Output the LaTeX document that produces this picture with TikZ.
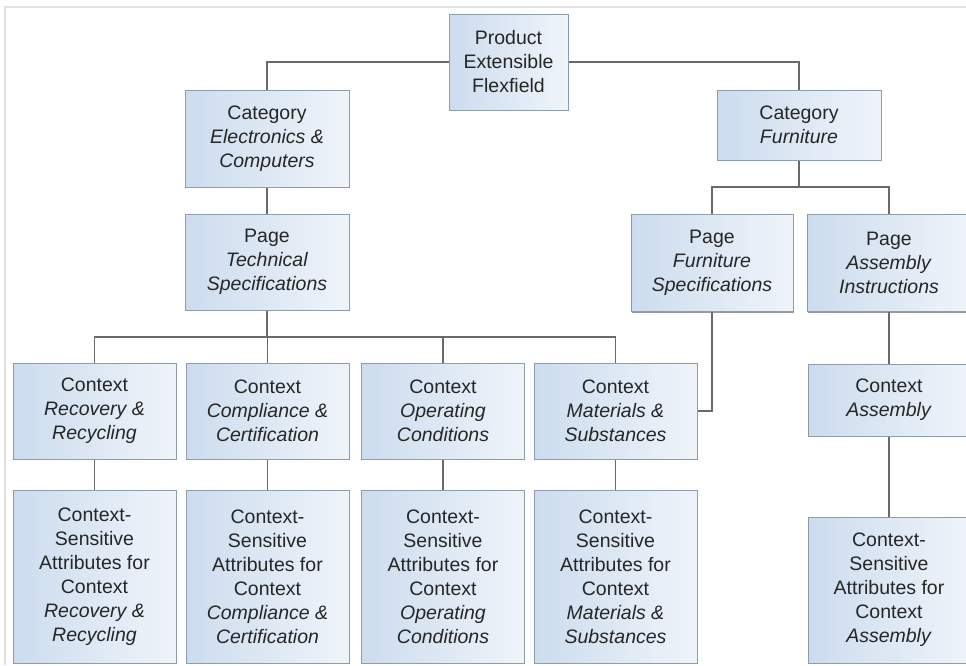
\documentclass[tikz,border=0pt]{standalone}
\usepackage{fontspec}
\setmainfont{Liberation Sans}
\usetikzlibrary{shadows}
\definecolor{txt}{HTML}{262626}
\definecolor{boxline}{HTML}{8E9DAC}
\definecolor{boxL}{HTML}{CCDCEE}
\definecolor{boxR}{HTML}{EFF4FA}
\definecolor{connc}{HTML}{6A6A6A}
\definecolor{frame}{HTML}{E2E2E2}
\begin{document}
\begin{tikzpicture}[x=1pt,y=-1pt,
  box/.style={draw=boxline, line width=1pt, left color=boxL, right color=boxR,
    text=txt, align=center, font=\fontsize{19.5}{24}\selectfont, inner sep=0pt,
    drop shadow={shadow xshift=0.8pt, shadow yshift=-1.4pt, fill=black, opacity=0.4}},
  conn/.style={draw=connc, line width=1.5pt, line join=miter}]
\useasboundingbox (0,0) rectangle (966,665);
% screenshot frame lines
\draw[frame, line width=2pt] (966,7) -- (5,7) -- (5,665);
% nodes
\node[box, minimum width=119pt, minimum height=96pt] (prod) at (508.5,62) {Product\\Extensible\\Flexfield};
\node[box, minimum width=164pt, minimum height=97pt] (catE) at (267,138.5) {Category\\\textit{Electronics \&}\\\textit{Computers}};
\node[box, minimum width=164pt, minimum height=70pt] (catF) at (799,125) {Category\\\textit{Furniture}};
\node[box, minimum width=164pt, minimum height=96pt] (pageT) at (267,262) {Page\\\textit{Technical}\\\textit{Specifications}};
\node[box, minimum width=162pt, minimum height=97pt] (pageF) at (712,263) {Page\\\textit{Furniture}\\\textit{Specifications}};
\node[box, minimum width=164pt, minimum height=97pt] (pageA) at (889,263) {Page\\\textit{Assembly}\\\textit{Instructions}};
\node[box, minimum width=163pt, minimum height=96pt] (ctx1) at (94.5,411) {Context\\\textit{Recovery \&}\\\textit{Recycling}};
\node[box, minimum width=163pt, minimum height=96pt] (ctx2) at (267.5,411) {Context\\\textit{Compliance \&}\\\textit{Certification}};
\node[box, minimum width=163pt, minimum height=96pt] (ctx3) at (443,411) {Context\\\textit{Operating}\\\textit{Conditions}};
\node[box, minimum width=163pt, minimum height=96pt] (ctx4) at (615.5,411) {Context\\\textit{Materials \&}\\\textit{Substances}};
\node[box, minimum width=162pt, minimum height=72pt] (ctxA) at (889,400) {Context\\\textit{Assembly}};
\node[box, minimum width=163pt, minimum height=173pt] (att1) at (94.5,576.5) {Context-\\Sensitive\\Attributes for\\Context\\\textit{Recovery \&}\\\textit{Recycling}};
\node[box, minimum width=163pt, minimum height=173pt] (att2) at (267.5,576.5) {Context-\\Sensitive\\Attributes for\\Context\\\textit{Compliance \&}\\\textit{Certification}};
\node[box, minimum width=163pt, minimum height=173pt] (att3) at (443,576.5) {Context-\\Sensitive\\Attributes for\\Context\\\textit{Operating}\\\textit{Conditions}};
\node[box, minimum width=163pt, minimum height=173pt] (att4) at (615.5,576.5) {Context-\\Sensitive\\Attributes for\\Context\\\textit{Materials \&}\\\textit{Substances}};
\node[box, minimum width=162pt, minimum height=146pt] (attA) at (889,590) {Context-\\Sensitive\\Attributes for\\Context\\\textit{Assembly}};
% bus coordinates
\coordinate (bT) at (267,337);
\coordinate (bF) at (799,187);
% connectors
\draw[conn] (prod.west) -| (catE.north);
\draw[conn] (prod.east) -| (catF.north);
\draw[conn] (catE.south) -- (pageT.north);
\draw[conn] (pageT.south) -- (bT);
\draw[conn] (ctx1.north) |- (bT -| ctx4.north) -- (ctx4.north);
\draw[conn] (ctx2.north) -- (ctx2.north |- bT);
\draw[conn] (ctx3.north) -- (ctx3.north |- bT);
\draw[conn] (catF.south) -- (bF);
\draw[conn] (pageF.north) |- (bF) -| (pageA.north);
\draw[conn] (pageF.south) |- (ctx4.east);
\draw[conn] (pageA.south) -- (ctxA.north);
\draw[conn] (ctxA.south) -- (attA.north);
\draw[conn] (ctx1.south) -- (att1.north);
\draw[conn] (ctx2.south) -- (att2.north);
\draw[conn] (ctx3.south) -- (att3.north);
\draw[conn] (ctx4.south) -- (att4.north);
\end{tikzpicture}
\end{document}
